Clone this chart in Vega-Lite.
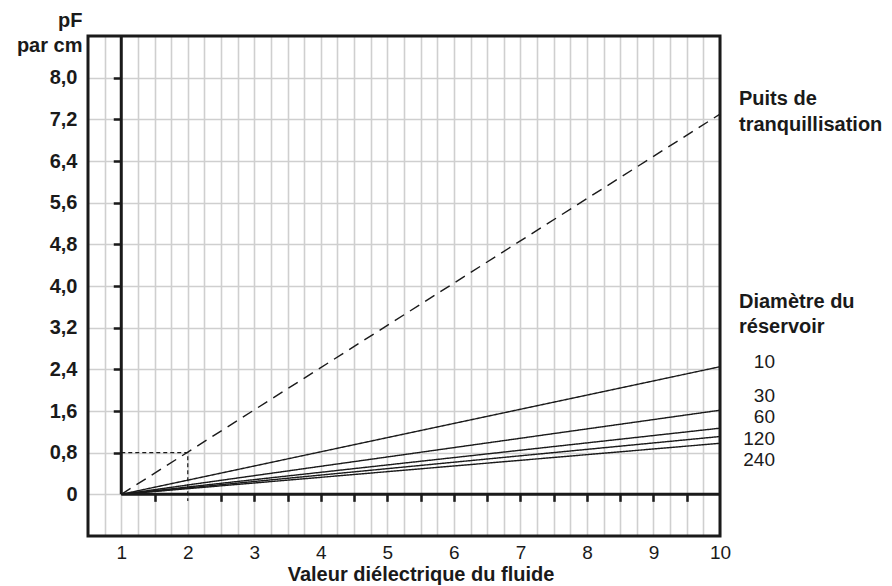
{
  "$schema": "https://vega.github.io/schema/vega-lite/v6.json",
  "width": 632,
  "height": 500,
  "autosize": {"type": "none"},
  "padding": {"left": 88, "top": 36, "right": 172, "bottom": 50},
  "background": "white",
  "config": {
    "font": "Liberation Sans",
    "view": {"stroke": null},
    "axis": {"labelFlush": false, "labelOverlap": false}
  },
  "datasets": {
    "lines": [
      {"series": "Puits de tranquillisation", "x": 1, "y": 0},
      {"series": "Puits de tranquillisation", "x": 10, "y": 7.3},
      {"series": "10", "x": 1, "y": 0},
      {"series": "10", "x": 10, "y": 2.45},
      {"series": "30", "x": 1, "y": 0},
      {"series": "30", "x": 10, "y": 1.615},
      {"series": "60", "x": 1, "y": 0},
      {"series": "60", "x": 10, "y": 1.27},
      {"series": "120", "x": 1, "y": 0},
      {"series": "120", "x": 10, "y": 1.11},
      {"series": "240", "x": 1, "y": 0},
      {"series": "240", "x": 10, "y": 0.98}
    ],
    "box": [
      {"order": 1, "x": 1, "y": 0.8},
      {"order": 2, "x": 2, "y": 0.8},
      {"order": 3, "x": 2, "y": -0.13}
    ],
    "headings": [
      {"text": "Puits de", "y": 7.47},
      {"text": "tranquillisation", "y": 6.97},
      {"text": "Diamètre du", "y": 3.58},
      {"text": "réservoir", "y": 3.1}
    ],
    "diameters": [
      {"text": "10", "y": 2.42},
      {"text": "30", "y": 1.78},
      {"text": "60", "y": 1.365},
      {"text": "120", "y": 0.948},
      {"text": "240", "y": 0.55}
    ]
  },
  "resolve": {"axis": {"x": "independent", "y": "independent"}},
  "layer": [
    {
      "data": {"name": "lines"},
      "mark": {"type": "line", "color": "#1a1a1a", "strokeWidth": 1.4, "strokeCap": "butt"},
      "encoding": {
        "x": {
          "field": "x", "type": "quantitative",
          "scale": {"domain": [0.5, 10], "nice": false, "zero": false},
          "axis": {
            "orient": "bottom",
            "values": [0.75, 1, 1.25, 1.5, 1.75, 2, 2.25, 2.5, 2.75, 3, 3.25, 3.5, 3.75, 4, 4.25, 4.5, 4.75, 5, 5.25, 5.5, 5.75, 6, 6.25, 6.5, 6.75, 7, 7.25, 7.5, 7.75, 8, 8.25, 8.5, 8.75, 9, 9.25, 9.5, 9.75, 10],
            "labelExpr": "(datum.value % 1 == 0 && datum.value >= 1) ? format(datum.value, 'd') : ''",
            "domain": false, "ticks": false,
            "grid": true, "gridColor": "#cfcfcf", "gridWidth": 1.6,
            "labelFontSize": 19, "labelColor": "#1a1a1a", "labelPadding": 7,
            "title": "Valeur diélectrique du fluide",
            "titleFontSize": 20, "titleFontWeight": "bold", "titleColor": "#1a1a1a",
            "titleAnchor": "start", "titleAlign": "center", "titleX": 332.5, "titleY": 44, "titleBaseline": "alphabetic"
          }
        },
        "y": {
          "field": "y", "type": "quantitative",
          "scale": {"domain": [-0.8, 8.8], "nice": false, "zero": false},
          "axis": {
            "orient": "left",
            "values": [0, 0.8, 1.6, 2.4, 3.2, 4.0, 4.8, 5.6, 6.4, 7.2, 8.0],
            "labelExpr": "datum.value == 0 ? '0' : replace(format(datum.value, '.1f'), '.', ',')",
            "domain": false, "ticks": false,
            "grid": true, "gridColor": "#cfcfcf", "gridWidth": 1.6,
            "labelFontSize": 20, "labelFontWeight": "bold", "labelColor": "#1a1a1a", "labelPadding": 11,
            "labelBaseline": "middle",
            "title": ["pF", "par cm"],
            "titleFontSize": 20, "titleFontWeight": "bold", "titleColor": "#1a1a1a",
            "titleAngle": 0, "titleAlign": "right", "titleBaseline": "alphabetic",
            "titleX": -6, "titleY": -9.3, "titleLineHeight": 25, "titleAnchor": "start"
          }
        },
        "detail": {"field": "series"},
        "strokeDash": {
          "field": "series", "type": "nominal",
          "scale": {"domain": ["Puits de tranquillisation", "10", "30", "60", "120", "240"], "range": [[11, 7], [1, 0], [1, 0], [1, 0], [1, 0], [1, 0]]},
          "legend": null
        }
      }
    },
    {
      "data": {"name": "box"},
      "mark": {"type": "line", "color": "#1a1a1a", "strokeWidth": 1.2, "strokeDash": [4, 3]},
      "encoding": {
        "x": {
          "field": "x", "type": "quantitative",
          "scale": {"domain": [0.5, 10], "nice": false, "zero": false},
          "axis": {
            "orient": "bottom", "offset": -41.67,
            "values": [1.5, 2.5, 3, 3.5, 4, 4.5, 5, 5.5, 6, 6.5, 7, 7.5, 8, 8.5, 9, 9.5],
            "domain": false, "labels": false, "grid": false, "title": null,
            "ticks": true, "tickSize": 7, "tickWidth": 2.5, "tickColor": "#1a1a1a", "zindex": 1
          }
        },
        "y": {
          "field": "y", "type": "quantitative",
          "scale": {"domain": [-0.8, 8.8], "nice": false, "zero": false},
          "axis": {
            "orient": "left", "offset": -33.26,
            "values": [0.8, 1.6, 2.4, 3.2, 4.0, 4.8, 5.6, 6.4, 7.2, 8.0],
            "domain": false, "labels": false, "grid": false, "title": null,
            "ticks": true, "tickSize": 8, "tickWidth": 2.5, "tickColor": "#1a1a1a", "zindex": 1
          }
        },
        "order": {"field": "order", "type": "quantitative"}
      }
    },
    {
      "data": {"values": [{}]},
      "mark": {"type": "rule", "color": "#1a1a1a", "strokeWidth": 3},
      "encoding": {
        "x": {"datum": 1, "type": "quantitative", "axis": null},
        "y": {"datum": 0, "type": "quantitative", "axis": null},
        "y2": {"datum": 8.8}
      }
    },
    {
      "data": {"values": [{}]},
      "mark": {"type": "rule", "color": "#1a1a1a", "strokeWidth": 3},
      "encoding": {
        "y": {"datum": 0, "type": "quantitative", "axis": null},
        "x": {"datum": 1, "type": "quantitative", "axis": null},
        "x2": {"datum": 10}
      }
    },
    {
      "data": {"values": [{}]},
      "mark": {"type": "rect", "filled": false, "color": "#1a1a1a", "strokeWidth": 3},
      "encoding": {
        "x": {"datum": 0.5, "type": "quantitative", "axis": null},
        "x2": {"datum": 10},
        "y": {"datum": -0.8, "type": "quantitative", "axis": null},
        "y2": {"datum": 8.8}
      }
    },
    {
      "data": {"name": "headings"},
      "mark": {"type": "text", "align": "left", "baseline": "alphabetic", "dx": 19, "fontSize": 20, "fontWeight": "bold", "color": "#1a1a1a"},
      "encoding": {
        "x": {"datum": 10, "type": "quantitative", "axis": null},
        "y": {"field": "y", "type": "quantitative", "axis": null},
        "text": {"field": "text"}
      }
    },
    {
      "data": {"name": "diameters"},
      "mark": {"type": "text", "align": "right", "baseline": "alphabetic", "dx": 55, "fontSize": 19, "color": "#1a1a1a"},
      "encoding": {
        "x": {"datum": 10, "type": "quantitative", "axis": null},
        "y": {"field": "y", "type": "quantitative", "axis": null},
        "text": {"field": "text"}
      }
    }
  ]
}
